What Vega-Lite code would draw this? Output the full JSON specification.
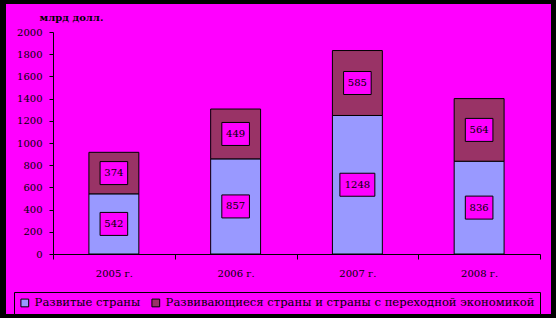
{
  "$schema": "https://vega.github.io/schema/vega-lite/v6.json",
  "width": 545,
  "height": 310,
  "autosize": {"type": "none"},
  "padding": {"left": 6, "top": 4, "right": 5, "bottom": 4},
  "background": "black",
  "config": {
    "view": {"fill": "#FF00FF", "stroke": null},
    "font": "DejaVu Serif",
    "axisY": {
      "title": "млрд долл.",
      "titleAngle": 0,
      "titleX": 18,
      "titleY": 13,
      "titleAlign": "center",
      "titleBaseline": "middle",
      "titleFont": "DejaVu Serif",
      "titleFontSize": 10,
      "titleFontWeight": "bold",
      "titleColor": "black",
      "offset": -47,
      "labelOverlap": false,
      "grid": false,
      "tickSize": 4,
      "tickColor": "black",
      "domainColor": "black",
      "labelColor": "black",
      "labelFont": "DejaVu Serif",
      "labelFontSize": 10,
      "labelPadding": 7
    }
  },
  "data": {
    "values": [
      {"year": "2005 г.", "series": "Развитые страны", "value": 542},
      {"year": "2005 г.", "series": "Развивающиеся страны и страны с переходной экономикой", "value": 374},
      {"year": "2006 г.", "series": "Развитые страны", "value": 857},
      {"year": "2006 г.", "series": "Развивающиеся страны и страны с переходной экономикой", "value": 449},
      {"year": "2007 г.", "series": "Развитые страны", "value": 1248},
      {"year": "2007 г.", "series": "Развивающиеся страны и страны с переходной экономикой", "value": 585},
      {"year": "2008 г.", "series": "Развитые страны", "value": 836},
      {"year": "2008 г.", "series": "Развивающиеся страны и страны с переходной экономикой", "value": 564}
    ]
  },
  "transform": [
    {"stack": "value", "groupby": ["year"], "sort": [{"field": "series", "order": "descending"}], "as": ["v0", "v1"]},
    {"calculate": "(datum.v0 + datum.v1) / 2", "as": "mid"}
  ],
  "encoding": {
    "x": {
      "field": "year",
      "type": "nominal",
      "sort": null,
      "scale": {"range": [47, 534], "paddingInner": 0, "paddingOuter": 0},
      "axis": {
        "title": null,
        "orient": "bottom",
        "offset": -60,
        "labelAngle": 0,
        "tickBand": "extent",
        "tickSize": 5,
        "tickColor": "black",
        "domainColor": "black",
        "labelColor": "black",
        "labelFont": "DejaVu Serif",
        "labelFontSize": 10,
        "labelPadding": 9,
        "grid": false
      }
    }
  },
  "layer": [
    {
      "mark": {"type": "bar", "width": {"band": 0.41}, "stroke": "black", "strokeWidth": 1},
      "encoding": {
        "y": {
          "field": "v0",
          "type": "quantitative",
          "scale": {"domain": [0, 2000], "range": [250, 28], "nice": false, "zero": true},
          "axis": {"title": "млрд долл.", "values": [0, 200, 400, 600, 800, 1000, 1200, 1400, 1600, 1800, 2000], "format": "d", "labelOverlap": false}
        },
        "y2": {"field": "v1"},
        "color": {
          "field": "series",
          "type": "nominal",
          "scale": {
            "domain": ["Развитые страны", "Развивающиеся страны и страны с переходной экономикой"],
            "range": ["#9999FF", "#993366"]
          },
          "legend": {
            "orient": "none",
            "legendX": 8,
            "legendY": 288,
            "direction": "horizontal",
            "title": null,
            "fillColor": "#FF00FF",
            "strokeColor": "black",
            "padding": 5,
            "symbolType": "square",
            "symbolSize": 60,
            "symbolStrokeColor": "black",
            "symbolStrokeWidth": 1,
            "symbolOpacity": 1,
            "labelFont": "DejaVu Serif",
            "labelFontSize": 11.6,
            "labelColor": "black",
            "labelLimit": 0,
            "labelOffset": 4,
            "columnPadding": 8
          }
        }
      }
    },
    {
      "mark": {"type": "point", "filled": true, "fill": "#FF00FF", "stroke": "black", "strokeWidth": 1, "opacity": 1},
      "encoding": {
        "y": {"field": "mid", "type": "quantitative", "axis": {"title": "млрд долл.", "values": [0, 200, 400, 600, 800, 1000, 1200, 1400, 1600, 1800, 2000], "format": "d", "labelOverlap": false}},
        "size": {"value": 529},
        "shape": {
          "condition": {"test": "datum.value >= 1000", "value": "M-1.52,-1H1.52V1H-1.52Z"},
          "value": "M-1.2,-1H1.2V1H-1.2Z"
        }
      }
    },
    {
      "mark": {"type": "text", "font": "DejaVu Serif", "fontSize": 10, "color": "black"},
      "encoding": {
        "y": {"field": "mid", "type": "quantitative", "axis": {"title": "млрд долл.", "values": [0, 200, 400, 600, 800, 1000, 1200, 1400, 1600, 1800, 2000], "format": "d", "labelOverlap": false}},
        "text": {"field": "value", "type": "quantitative", "format": "d"}
      }
    }
  ]
}
